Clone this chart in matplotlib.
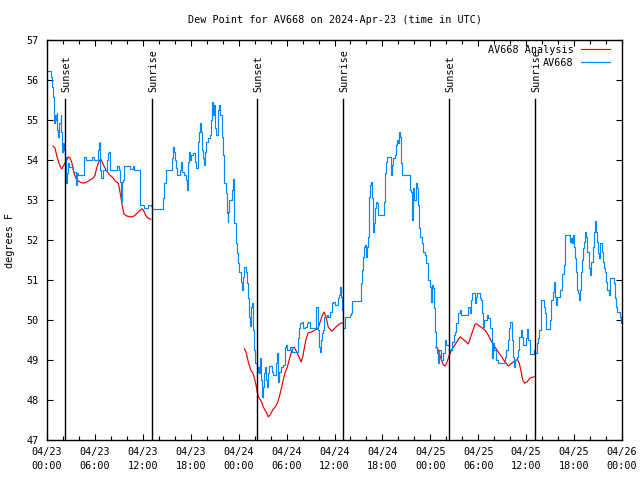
import matplotlib
matplotlib.use("Agg")
import matplotlib.pyplot as plt
from matplotlib.ticker import MultipleLocator

# hours after 2024-04-23 00:00 UTC, dew point in deg F
av668_obs = [
    (0.00, 56.22), (0.46, 56.22), (0.50, 56.08), (0.66, 55.82), (0.79, 55.58), (0.84, 55.42),
    (0.88, 54.92), (0.96, 55.08), (1.04, 55.12), (1.13, 55.00), (1.21, 55.18), (1.29, 54.75),
    (1.38, 54.58), (1.54, 54.92), (1.72, 55.12), (1.79, 54.70), (1.88, 54.58), (1.92, 54.20),
    (2.04, 54.42), (2.13, 54.25), (2.29, 54.08), (2.34, 53.42), (2.47, 53.68), (2.59, 53.92),
    (2.79, 53.82), (3.29, 53.70), (3.59, 53.45), (3.67, 53.38), (3.76, 53.68), (3.92, 53.62),
    (4.51, 53.62), (4.63, 54.08), (4.88, 54.00), (5.47, 54.00), (5.60, 54.08), (5.92, 54.00),
    (6.26, 54.00), (6.42, 54.25), (6.51, 54.42), (6.60, 54.45), (6.64, 53.75), (6.76, 53.55),
    (7.05, 53.75), (7.48, 54.00), (7.64, 54.18), (7.73, 54.20), (7.89, 53.75), (8.52, 53.75),
    (8.73, 53.85), (9.02, 53.75), (9.14, 53.45), (9.27, 52.95), (9.39, 53.45), (9.55, 53.50),
    (9.64, 53.85), (10.14, 53.85), (10.39, 53.78), (10.73, 53.85), (10.89, 53.75), (11.65, 53.75),
    (11.68, 52.88), (12.15, 52.80), (12.61, 52.80), (12.69, 52.88), (12.99, 52.85), (13.19, 52.78),
    (14.44, 52.78), (14.56, 53.05), (14.69, 53.42), (14.86, 53.75), (15.53, 53.75), (15.61, 54.05),
    (15.82, 54.32), (15.94, 54.20), (16.03, 54.00), (16.15, 53.80), (16.24, 53.62), (16.53, 53.62),
    (16.65, 53.75), (16.78, 53.95), (16.94, 53.70), (17.12, 53.62), (17.37, 53.50), (17.49, 53.32),
    (17.57, 53.25), (17.69, 53.95), (17.82, 54.20), (17.91, 54.00), (18.03, 54.12), (18.32, 54.18),
    (18.53, 53.95), (18.66, 53.80), (18.87, 54.20), (18.95, 54.45), (19.07, 54.70), (19.16, 54.92),
    (19.28, 54.70), (19.37, 54.50), (19.45, 54.25), (19.57, 54.05), (19.70, 53.88), (19.78, 54.20),
    (19.91, 54.45), (20.20, 54.55), (20.41, 54.62), (20.50, 55.00), (20.62, 55.25), (20.70, 55.45),
    (20.83, 55.12), (20.95, 55.38), (21.04, 54.80), (21.16, 54.62), (21.38, 55.12), (21.45, 55.25),
    (21.54, 55.38), (21.66, 55.12), (21.88, 54.58), (22.08, 54.12), (22.20, 53.42), (22.38, 53.18),
    (22.50, 52.92), (22.58, 52.68), (22.67, 52.45), (22.70, 52.70), (22.83, 53.00), (23.13, 53.25),
    (23.25, 53.38), (23.33, 53.52), (23.42, 53.18), (23.45, 52.42), (23.63, 51.92), (23.75, 51.68),
    (23.95, 51.42), (24.08, 51.20), (24.26, 50.95), (24.38, 50.75), (24.51, 51.08), (24.71, 51.32),
    (24.92, 51.20), (25.01, 50.92), (25.13, 50.55), (25.33, 50.08), (25.42, 49.85), (25.51, 50.32),
    (25.63, 50.42), (25.76, 50.12), (25.83, 49.75), (25.96, 49.25), (26.08, 48.92), (26.33, 48.70),
    (26.46, 48.82), (26.58, 48.68), (26.67, 49.05), (26.80, 48.50), (26.88, 48.08), (27.01, 48.32),
    (27.21, 48.68), (27.30, 48.82), (27.42, 48.50), (27.51, 48.32), (27.64, 48.68), (27.76, 48.85),
    (28.14, 48.70), (28.26, 48.62), (28.55, 48.62), (28.68, 48.92), (28.76, 49.18), (28.89, 48.82),
    (28.96, 48.45), (29.09, 48.70), (29.30, 48.82), (29.52, 48.88), (29.80, 49.32), (29.93, 49.38),
    (30.01, 49.25), (30.43, 49.32), (30.64, 49.20), (31.27, 49.20), (31.39, 49.55), (31.59, 49.80),
    (31.68, 49.92), (31.89, 49.95), (32.09, 49.80), (32.31, 49.82), (32.52, 49.92), (32.72, 49.95),
    (32.93, 49.80), (33.56, 49.80), (33.68, 50.32), (33.90, 50.32), (33.97, 49.75), (34.06, 49.32),
    (34.19, 49.20), (34.27, 49.50), (34.40, 49.68), (34.60, 49.75), (34.72, 50.08), (35.02, 50.12),
    (35.23, 50.08), (35.44, 50.20), (35.65, 50.42), (35.85, 50.45), (36.06, 50.38), (36.40, 50.55),
    (36.57, 50.62), (36.69, 50.82), (36.82, 50.58), (36.90, 50.25), (37.03, 49.88), (37.10, 49.80),
    (37.32, 50.08), (37.94, 50.12), (38.07, 50.18), (38.19, 50.48), (39.19, 50.48), (39.32, 50.92),
    (39.44, 51.25), (39.57, 51.58), (39.70, 51.82), (39.82, 51.88), (39.95, 51.58), (40.07, 51.82),
    (40.20, 52.08), (40.32, 53.08), (40.45, 53.38), (40.57, 53.45), (40.70, 53.05), (40.82, 52.20),
    (40.95, 52.42), (41.07, 52.80), (41.20, 52.95), (41.32, 52.92), (41.45, 52.62), (42.07, 52.62),
    (42.20, 52.95), (42.33, 53.68), (42.45, 53.95), (42.58, 54.08), (42.95, 54.08), (43.08, 53.62),
    (43.20, 53.88), (43.33, 54.05), (43.58, 54.12), (43.70, 54.38), (43.83, 54.50), (43.95, 54.42),
    (44.08, 54.70), (44.20, 54.58), (44.33, 53.92), (44.45, 53.62), (45.33, 53.62), (45.46, 53.25),
    (45.58, 53.20), (45.71, 52.50), (45.83, 53.30), (45.96, 53.00), (46.21, 53.42), (46.33, 53.30),
    (46.46, 52.88), (46.58, 52.30), (46.71, 52.08), (46.96, 51.92), (47.08, 51.70), (47.33, 51.62),
    (47.46, 51.42), (47.71, 51.00), (47.96, 50.82), (48.09, 50.45), (48.21, 50.88), (48.34, 50.80),
    (48.46, 50.30), (48.59, 49.70), (48.71, 49.32), (48.84, 49.18), (48.96, 48.92), (49.09, 49.25),
    (49.34, 49.00), (49.59, 49.18), (49.84, 49.50), (49.96, 49.38), (50.34, 49.25), (50.71, 49.45),
    (50.97, 49.62), (51.09, 49.70), (51.22, 49.92), (51.47, 50.18), (51.72, 50.25), (51.85, 50.12),
    (52.60, 50.12), (52.72, 50.32), (52.97, 50.18), (53.09, 50.50), (53.22, 50.68), (53.47, 50.68),
    (53.60, 50.42), (53.72, 50.58), (53.85, 50.68), (54.22, 50.55), (54.35, 50.50), (54.47, 50.18),
    (54.60, 49.82), (54.72, 50.00), (55.10, 50.12), (55.22, 50.05), (55.47, 49.80), (55.72, 49.05),
    (55.85, 49.42), (55.97, 49.25), (56.22, 49.00), (56.48, 48.92), (57.23, 48.92), (57.35, 49.08),
    (57.48, 49.25), (57.73, 49.50), (57.85, 49.80), (57.98, 49.95), (58.23, 49.50), (58.35, 49.08),
    (58.48, 48.82), (58.61, 49.00), (58.86, 49.08), (58.98, 49.25), (59.11, 49.58), (59.36, 49.75),
    (59.48, 49.58), (59.61, 49.38), (59.98, 49.55), (60.11, 49.78), (60.23, 49.50), (60.48, 49.15),
    (60.98, 49.25), (61.11, 49.18), (61.36, 49.42), (61.48, 49.55), (61.61, 49.75), (61.86, 50.50),
    (62.11, 50.50), (62.24, 50.32), (62.36, 50.18), (62.49, 49.78), (62.86, 49.78), (62.99, 50.00),
    (63.11, 50.50), (63.36, 50.70), (63.49, 50.95), (63.61, 50.58), (63.74, 50.38), (63.86, 50.58),
    (64.24, 50.75), (64.49, 51.15), (64.74, 51.38), (64.86, 52.12), (65.49, 51.95), (65.62, 52.05),
    (65.74, 51.92), (65.87, 52.12), (65.99, 51.82), (66.12, 51.55), (66.24, 51.20), (66.37, 50.75),
    (66.49, 50.68), (66.62, 50.50), (66.74, 50.75), (66.87, 51.20), (66.99, 51.50), (67.12, 51.80),
    (67.25, 51.95), (67.37, 52.20), (67.50, 52.08), (67.62, 51.70), (67.87, 51.30), (68.00, 51.12),
    (68.12, 51.45), (68.37, 51.82), (68.50, 52.20), (68.62, 52.48), (68.75, 52.20), (68.87, 51.95),
    (69.00, 51.68), (69.12, 51.55), (69.25, 51.92), (69.50, 51.70), (69.62, 51.45), (69.75, 51.30),
    (69.87, 51.20), (70.00, 50.95), (70.12, 50.75), (70.37, 50.62), (70.50, 51.05), (71.00, 50.92),
    (71.13, 50.55), (71.25, 50.32), (71.38, 50.20), (71.75, 50.08), (71.88, 49.92), (72.00, 49.92),
]

# analysis runs, one list per night
analysis_run1 = [
    (0.75, 54.35), (1.00, 54.30), (1.25, 54.08), (1.50, 53.92), (1.75, 53.80), (1.88, 53.78),
    (2.04, 53.85), (2.25, 53.92), (2.47, 54.00), (2.67, 54.08), (2.88, 54.05), (3.09, 53.95),
    (3.29, 53.75), (3.51, 53.60), (3.72, 53.50), (4.13, 53.45), (4.55, 53.42), (4.97, 53.45),
    (5.38, 53.50), (5.80, 53.55), (6.01, 53.62), (6.22, 53.80), (6.42, 53.92), (6.64, 54.00),
    (6.76, 54.02), (6.97, 53.92), (7.26, 53.80), (7.48, 53.72), (7.89, 53.62), (8.30, 53.55),
    (8.51, 53.48), (8.93, 53.42), (9.05, 53.30), (9.23, 53.10), (9.35, 52.95), (9.48, 52.80),
    (9.64, 52.65), (9.98, 52.60), (10.39, 52.58), (10.73, 52.58), (11.02, 52.62), (11.43, 52.70),
    (11.86, 52.78), (12.06, 52.75), (12.36, 52.62), (12.61, 52.55), (12.99, 52.52),
]
analysis_run2 = [
    (24.71, 49.28), (24.92, 49.20), (25.21, 48.95), (25.51, 48.75), (25.76, 48.68), (25.96, 48.55),
    (26.17, 48.38), (26.33, 48.20), (26.46, 48.08), (26.67, 48.02), (26.88, 47.95), (27.09, 47.82),
    (27.30, 47.75), (27.51, 47.68), (27.71, 47.58), (27.92, 47.62), (28.26, 47.75), (28.55, 47.82),
    (28.84, 47.92), (29.09, 48.08), (29.30, 48.25), (29.52, 48.45), (29.80, 48.68), (30.09, 48.82),
    (30.43, 49.08), (30.77, 49.30), (30.97, 49.32), (31.27, 49.20), (31.68, 49.02), (31.81, 48.95),
    (32.02, 49.08), (32.22, 49.30), (32.43, 49.52), (32.72, 49.68), (33.14, 49.70), (33.56, 49.75),
    (33.90, 49.78), (34.10, 49.88), (34.40, 50.08), (34.69, 50.20), (34.94, 50.08), (35.22, 49.82),
    (35.65, 49.72), (36.06, 49.80), (36.48, 49.88), (36.78, 49.92), (37.03, 49.92),
]
analysis_run3 = [
    (48.71, 49.32), (49.00, 49.25), (49.30, 49.05), (49.62, 48.88), (49.84, 48.85), (50.05, 48.92),
    (50.37, 49.12), (50.67, 49.25), (51.09, 49.38), (51.72, 49.58), (52.22, 49.50), (52.76, 49.40),
    (53.18, 49.65), (53.60, 49.90), (53.85, 49.90), (54.35, 49.82), (54.85, 49.75), (55.26, 49.62),
    (55.69, 49.45), (56.10, 49.32), (56.51, 49.20), (56.94, 49.08), (57.35, 48.95), (57.77, 48.85),
    (58.19, 48.92), (58.61, 48.98), (58.89, 49.02), (59.14, 48.92), (59.32, 48.75), (59.57, 48.50),
    (59.79, 48.42), (60.11, 48.45), (60.48, 48.55), (60.98, 48.58),
]

sun_hours = [2.27, 13.17, 26.31, 37.10, 50.36, 61.13]
sun_labels = ["Sunset", "Sunrise", "Sunset", "Sunrise", "Sunset", "Sunrise"]

tick_hours = [0, 6, 12, 18, 24, 30, 36, 42, 48, 54, 60, 66, 72]
tick_labels = ["04/23\n00:00", "04/23\n06:00", "04/23\n12:00", "04/23\n18:00",
               "04/24\n00:00", "04/24\n06:00", "04/24\n12:00", "04/24\n18:00",
               "04/25\n00:00", "04/25\n06:00", "04/25\n12:00", "04/25\n18:00",
               "04/26\n00:00"]

plt.rcParams["font.family"] = "DejaVu Sans Mono"
plt.rcParams["font.size"] = 7.3

fig = plt.figure(figsize=(6.4, 4.8), dpi=100)
ax = fig.add_axes([47 / 640, 40 / 480, 575 / 640, 400 / 480])

red = "#e60000"
blue = "#0088ff"
for i, run in enumerate([analysis_run1, analysis_run2, analysis_run3]):
    t, v = zip(*run)
    ax.plot(t, v, color=red, lw=0.85, label="AV668 Analysis" if i == 0 else None)

obs_t, obs_v = zip(*av668_obs)
ax.plot(obs_t, obs_v, color=blue, lw=0.85, drawstyle="steps-post", label="AV668")

for t, lab in zip(sun_hours, sun_labels):
    ax.axvline(t, ymin=0, ymax=0.8525, color="black", lw=1.0)
    ax.text(t + 0.15, 0.87, lab, transform=ax.get_xaxis_transform(),
            rotation=90, ha="center", va="bottom")

ax.set_xlim(0, 72)
ax.set_ylim(47, 57)
ax.set_xticks(tick_hours)
ax.set_xticklabels(tick_labels)
for lbl in ax.get_xticklabels():
    lbl.set_linespacing(1.45)
ax.xaxis.set_minor_locator(MultipleLocator(2))
ax.set_yticks(range(47, 58))
ax.tick_params(which="both", direction="in", top=True, right=True, width=0.8)
ax.tick_params(which="major", length=4)
ax.tick_params(which="minor", length=3)
ax.tick_params(axis="x", pad=5)
ax.tick_params(axis="y", pad=6)
for s in ax.spines.values():
    s.set_linewidth(1.0)

ax.set_title("Dew Point for AV668 on 2024-Apr-23 (time in UTC)", fontsize=7.3, pad=12)
fig.text(10 / 640, 0.5, "degrees F", rotation=90, ha="center", va="center")

ax.legend(loc="upper right", bbox_to_anchor=(1 - 12 / 575, 1 - 5 / 400),
          frameon=False, markerfirst=False, handlelength=2.9,
          handletextpad=0.7, labelspacing=0.3, borderaxespad=0, borderpad=0)

fig.savefig("out.png", dpi=100)
